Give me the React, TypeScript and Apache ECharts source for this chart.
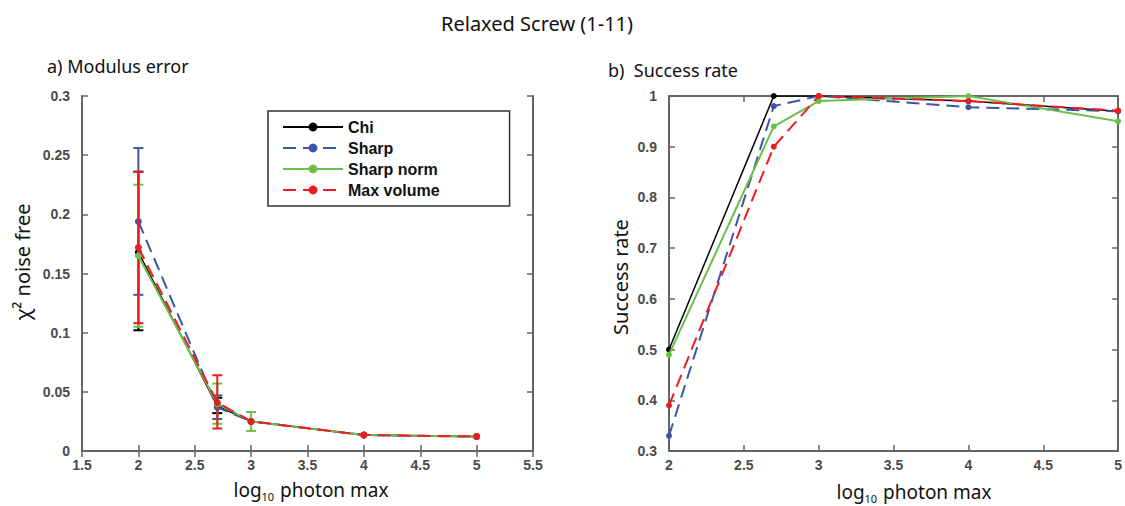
import React, { useEffect, useRef } from "react";
import * as echarts from "echarts";

const seriesNames = ["Chi", "Sharp", "Sharp norm", "Max volume"];
const colors = ["#000000", "#3a56a5", "#6cc04a", "#ec1c24"];
const dashed = [false, true, false, true];

const xVals = [2, 2.7, 3, 4, 5];

// a) Modulus error
const modChi = [0.168, 0.038, 0.025, 0.0135, 0.0122];
const modSharp = [0.194, 0.037, 0.025, 0.0135, 0.0122];
const modSharpNorm = [0.165, 0.04, 0.025, 0.0135, 0.0122];
const modMaxVol = [0.172, 0.041, 0.025, 0.0135, 0.0122];

// error bars: [x, low, high]
const errChi = [[2, 0.102, 0.236], [2.7, 0.032, 0.045]];
const errSharp = [[2, 0.132, 0.256], [2.7, 0.027, 0.047]];
const errSharpNorm = [[2, 0.105, 0.225], [2.7, 0.023, 0.057], [3, 0.017, 0.033]];
const errMaxVol = [[2, 0.108, 0.236], [2.7, 0.019, 0.064]];

// b) Success rate
const sucChi = [0.5, 1.0, 1.0, 0.99, 0.97];
const sucSharp = [0.33, 0.98, 1.0, 0.978, 0.97];
const sucSharpNorm = [0.49, 0.94, 0.99, 1.0, 0.95];
const sucMaxVol = [0.39, 0.9, 1.0, 0.99, 0.971];

const modData = [modChi, modSharp, modSharpNorm, modMaxVol];
const errData = [errChi, errSharp, errSharpNorm, errMaxVol];
const sucData = [sucChi, sucSharp, sucSharpNorm, sucMaxVol];

const labelFont = {
  color: "#4a4a4a",
  fontFamily: "Liberation Sans",
  fontWeight: "bold" as const,
  fontSize: 14,
};
const axisColor = "#666666";

function fmt(v: number) {
  return String(Math.round(v * 1000) / 1000);
}

function makeAxes(gridIndex: number, xmin: number, xmax: number, xint: number, ymin: number, ymax: number, yint: number) {
  const tick = { show: true, inside: true, length: 6, lineStyle: { color: axisColor, width: 1.5 } };
  const line = { show: true, lineStyle: { color: axisColor, width: 2 } };
  const xAxes = [
    {
      type: "value", gridIndex, position: "bottom", min: xmin, max: xmax, interval: xint,
      axisLine: line, axisTick: tick, splitLine: { show: false },
      axisLabel: { ...labelFont, margin: 7, formatter: fmt },
    },
    {
      type: "value", gridIndex, position: "top", min: xmin, max: xmax, interval: xint,
      axisLine: line, axisTick: tick, splitLine: { show: false }, axisLabel: { show: false },
    },
  ];
  const yAxes = [
    {
      type: "value", gridIndex, position: "left", min: ymin, max: ymax, interval: yint,
      axisLine: line, axisTick: tick, splitLine: { show: false },
      axisLabel: { ...labelFont, margin: 12, formatter: fmt },
    },
    {
      type: "value", gridIndex, position: "right", min: ymin, max: ymax, interval: yint,
      axisLine: line, axisTick: tick, splitLine: { show: false }, axisLabel: { show: false },
    },
  ];
  return { xAxes, yAxes };
}

const nameFont = { fontFamily: "Noto Sans", fontSize: 19, fill: "#111" };
const subRich = { sub: { fontFamily: "Noto Sans", fontSize: 11, fill: "#111", padding: [12, 1, 0, 0] } };

export default function App() {
  const ref = useRef<HTMLDivElement>(null);
  useEffect(() => {
    if (!ref.current) return;
    const chart = echarts.init(ref.current, null, { renderer: "svg" });

    const a = makeAxes(0, 1.5, 5.5, 0.5, 0, 0.3, 0.05);
    const b = makeAxes(1, 2, 5, 0.5, 0.3, 1, 0.1);

    const series: any[] = [];
    errData.forEach((d, i) => {
      series.push({
        type: "custom",
        name: "err" + i,
        xAxisIndex: 0,
        yAxisIndex: 0,
        data: d,
        z: 2 + i,
        encode: { x: 0, y: [1, 2] },
        renderItem: (params: any, api: any) => {
          const x = api.value(0);
          const lo = api.coord([x, api.value(1)]);
          const hi = api.coord([x, api.value(2)]);
          const w = 5;
          const style = { stroke: colors[i], lineWidth: 2 };
          return {
            type: "group",
            children: [
              { type: "line", shape: { x1: lo[0], y1: lo[1], x2: hi[0], y2: hi[1] }, style },
              { type: "line", shape: { x1: lo[0] - w, y1: lo[1], x2: lo[0] + w, y2: lo[1] }, style },
              { type: "line", shape: { x1: hi[0] - w, y1: hi[1], x2: hi[0] + w, y2: hi[1] }, style },
            ],
          };
        },
      });
    });
    modData.forEach((d, i) => {
      series.push({
        type: "line",
        name: seriesNames[i],
        xAxisIndex: 0,
        yAxisIndex: 0,
        data: d.map((v, k) => [xVals[k], v]),
        symbol: "circle",
        symbolSize: 7,
        z: 3 + i,
        itemStyle: { color: colors[i] },
        lineStyle: { color: colors[i], width: i === 0 ? 1.5 : 2, type: dashed[i] ? [13, 7] : "solid" },
      });
    });
    sucData.forEach((d, i) => {
      series.push({
        type: "line",
        name: seriesNames[i] + " ",
        xAxisIndex: 2,
        yAxisIndex: 2,
        data: d.map((v, k) => [xVals[k], v]),
        symbol: "circle",
        symbolSize: 6,
        z: 3 + i,
        itemStyle: { color: colors[i] },
        lineStyle: { color: colors[i], width: i === 0 ? 1.5 : 2, type: dashed[i] ? [13, 7] : "solid" },
      });
    });

    chart.setOption({
      animation: false,
      backgroundColor: "#ffffff",
      title: [
        { text: "Relaxed Screw (1-11)", left: 436, top: 8, textStyle: { fontFamily: "Noto Sans", fontWeight: "normal", fontSize: 20, color: "#111" } },
        { text: "a) Modulus error", left: 42, top: 52, textStyle: { fontFamily: "Noto Sans", fontWeight: "normal", fontSize: 18, color: "#111" } },
        { text: "b)  Success rate", left: 603, top: 56, textStyle: { fontFamily: "Noto Sans", fontWeight: "normal", fontSize: 18, color: "#111" } },
      ],
      legend: {
        data: seriesNames,
        orient: "vertical",
        left: 268,
        top: 111,
        width: 252,
        padding: [8, 70, 8, 14],
        itemWidth: 60,
        itemHeight: 11,
        itemGap: 5,
        borderColor: "#333",
        borderWidth: 1.5,
        borderRadius: 0,
        backgroundColor: "#ffffff",
        textStyle: { fontFamily: "Liberation Sans", fontWeight: "bold", fontSize: 16, color: "#111" },
      },
      grid: [
        { left: 82, top: 96, width: 451, height: 355 },
        { left: 669, top: 96, width: 450, height: 355 },
      ],
      xAxis: [...a.xAxes, ...b.xAxes],
      yAxis: [...a.yAxes, ...b.yAxes],
      graphic: [
        { type: "text", x: 311, y: 490, style: { text: "log{sub|10} photon max", align: "center", verticalAlign: "middle", ...nameFont, rich: subRich } },
        { type: "text", x: 914, y: 492, style: { text: "log{sub|10} photon max", align: "center", verticalAlign: "middle", ...nameFont, rich: subRich } },
        { type: "text", x: 22, y: 262, rotation: Math.PI / 2, style: { text: "χ² noise free", align: "center", verticalAlign: "middle", ...nameFont, fontSize: 20 } },
        { type: "text", x: 620, y: 277, rotation: Math.PI / 2, style: { text: "Success rate", align: "center", verticalAlign: "middle", ...nameFont, fontSize: 20 } },
      ],
      series,
    } as any);
    return () => chart.dispose();
  }, []);
  return <div ref={ref} style={{ position: "fixed", left: 0, top: 0, width: 1125, height: 506 }} />;
}
